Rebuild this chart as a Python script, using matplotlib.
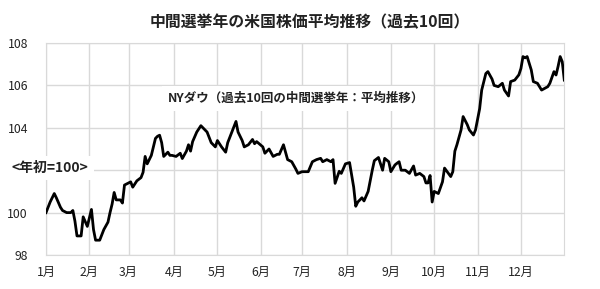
"""Midterm-year average Dow path (last 10 midterm years), index start of year = 100."""

import matplotlib
matplotlib.use("Agg")
import matplotlib.pyplot as plt

plt.rcParams["font.family"] = ["Noto Sans CJK JP", "DejaVu Sans"]

# trading-day index within the year and averaged index level (start of year = 100)
days = [0, 2, 4, 5, 7, 8, 10, 12, 13, 14, 15, 17, 18, 20, 22, 23, 24, 26, 28, 30,
        31, 32, 33, 34, 36, 37, 38, 40, 41, 42, 44, 46, 47, 48, 49, 51, 52, 53, 54, 55,
        56, 57, 59, 60, 61, 63, 65, 66, 68, 69, 70, 71, 73, 75, 76, 77, 78, 80, 82, 83,
        85, 87, 88, 90, 92, 93, 95, 96, 98, 100, 101, 102, 105, 106, 108, 110, 112, 113, 115, 117,
        119, 121, 122, 124, 127, 129, 131, 133, 134, 136, 138, 139, 140, 142, 143, 145, 147, 149, 150, 151,
        153, 154, 156, 158, 159, 161, 163, 164, 166, 167, 169, 170, 171, 172, 174, 176, 178, 179, 181, 183,
        184, 185, 186, 187, 188, 190, 192, 193, 196, 197, 198, 199, 201, 202, 204, 205, 207, 208, 210, 211,
        213, 214, 216, 217, 219, 221, 222, 224, 225, 227, 229, 230, 231, 232, 233, 235, 236, 238, 240, 243,
        244, 246, 247, 248, 249, 250, 251]
dow = [100.0, 100.5, 100.9, 100.7, 100.25, 100.1, 100.0, 100.0, 100.1, 99.6, 98.9, 98.9, 99.8, 99.35, 100.15, 99.2, 98.7, 98.7, 99.2, 99.55,
       100.0, 100.4, 100.95, 100.6, 100.6, 100.45, 101.3, 101.4, 101.45, 101.2, 101.5, 101.65, 101.9, 102.65, 102.3, 102.7, 103.1, 103.5, 103.6, 103.65,
       103.3, 102.65, 102.85, 102.7, 102.7, 102.65, 102.8, 102.55, 102.9, 103.2, 102.9, 103.35, 103.8, 104.1, 104.0, 103.9, 103.8, 103.3, 103.1, 103.4,
       103.1, 102.85, 103.3, 103.8, 104.3, 103.8, 103.4, 103.1, 103.2, 103.45, 103.25, 103.35, 103.1, 102.8, 103.0, 102.65, 102.75, 102.75, 103.2, 102.5,
       102.4, 102.05, 101.85, 101.93, 101.93, 102.4, 102.5, 102.56, 102.4, 102.5, 102.4, 102.5, 101.38, 101.95, 101.85, 102.3, 102.36, 101.2, 100.3, 100.5,
       100.7, 100.55, 101.0, 102.0, 102.45, 102.6, 102.0, 102.56, 102.4, 101.93, 102.25, 102.33, 102.4, 102.0, 102.0, 101.85, 102.2, 101.77, 101.85, 101.7,
       101.4, 101.4, 101.75, 100.5, 101.0, 100.9, 101.45, 102.1, 101.7, 101.93, 102.9, 103.2, 103.9, 104.53, 104.15, 103.9, 103.66, 103.9, 104.9, 105.78,
       106.56, 106.65, 106.3, 106.0, 105.94, 106.1, 105.78, 105.5, 106.18, 106.25, 106.5, 106.8, 107.36, 107.3, 107.36, 106.73, 106.18, 106.1, 105.78, 105.94,
       106.1, 106.65, 106.49, 106.9, 107.36, 107.12, 106.25]

month_start = [0, 21, 40, 62, 83, 104, 124, 146, 167, 188, 209, 230]
month_labels = ["1月", "2月", "3月", "4月", "5月", "6月", "7月", "8月", "9月", "10月", "11月", "12月"]
y_ticks = [98, 100, 102, 104, 106, 108]
# the 102 label is covered by the <年初=100> note in the original
y_tick_labels = ["98", "100", "", "104", "106", "108"]

fig = plt.figure(figsize=(6.0, 2.89), dpi=100)
ax = fig.add_axes([0.0767, 0.1176, 0.8638, 0.7336])

grid_c = "#d9d9d9"
text_c = "#222222"
ax.plot(days, dow, color="black", linewidth=2.0, solid_joinstyle="round", zorder=3)

ax.set_xlim(0, 251)
ax.set_ylim(98, 108)
ax.set_xticks(month_start)
ax.set_xticklabels(month_labels)
ax.set_yticks(y_ticks)
ax.set_yticklabels(y_tick_labels)
ax.grid(True, color=grid_c, linewidth=1.0)
ax.tick_params(length=0, labelsize=8.8, colors=text_c)
ax.tick_params(axis="x", pad=8)
ax.tick_params(axis="y", pad=13)
for s in ax.spines.values():
    s.set_color(grid_c)

fig.text(0.517, 0.925, "中間選挙年の米国株価平均推移（過去10回）",
         ha="center", va="center", fontsize=11.4, fontweight="bold", color=text_c)

# labels sit on white boxes that hide the grid behind them
fig.text(0.28, 0.66, "NYダウ（過去10回の中間選挙年：平均推移）",
         ha="left", va="center", fontsize=9, fontweight="bold", color=text_c,
         bbox=dict(boxstyle="square,pad=0.5", facecolor="white", edgecolor="none"))
fig.text(0.02, 0.418, "<年初=100>",
         ha="left", va="center", fontsize=10, fontweight="bold", color=text_c,
         bbox=dict(boxstyle="square,pad=0.35", facecolor="white", edgecolor="none"))

fig.savefig("out.png", dpi=100, facecolor="white")
